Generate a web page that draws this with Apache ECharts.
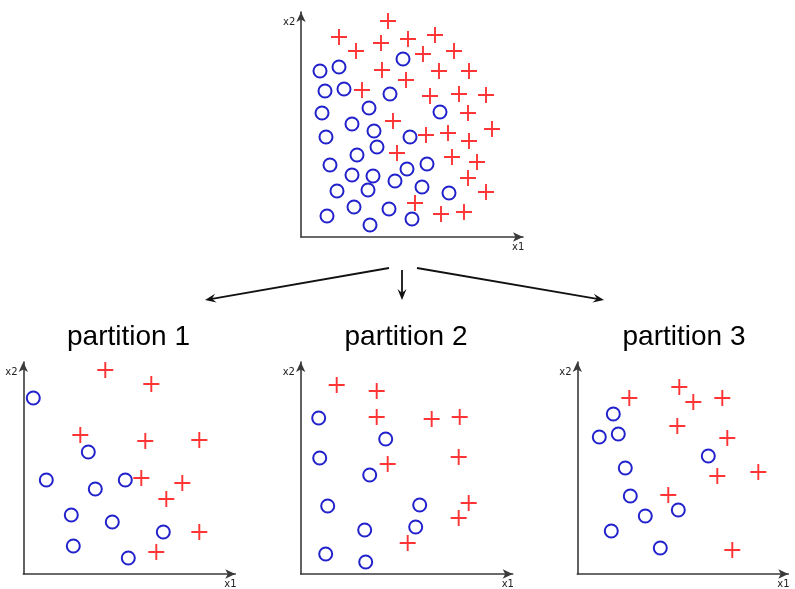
<!DOCTYPE html>
<html>
<head>
<meta charset="utf-8">
<script src="https://cdn.jsdelivr.net/npm/echarts@6/dist/echarts.min.js"></script>
<style>
html,body{margin:0;padding:0;background:#fff;}
#chart{width:795px;height:589px;}
</style>
</head>
<body>
<div id="chart"></div>
<script>
// Data: point positions (x1, x2), in each panel's own units
const topCircles = [[19,166],[38,170],[102,178],[24,146],[43,148],[89,143],[21,124],[68,129],[139,125],[51,113],[73,106],[25,100],[109,100],[76,90],[56,82],[29,72],[51,62],[72,61],[106,68],[126,73],[94,56],[36,46],[67,47],[121,50],[148,44],[53,30],[88,28],[26,21],[111,18],[69,12]];
const topCrosses = [[87,216],[38,200],[107,198],[134,202],[80,194],[55,186],[122,183],[153,186],[81,167],[138,166],[168,166],[105,157],[61,147],[129,141],[158,143],[185,142],[167,124],[92,116],[191,108],[125,102],[147,104],[168,96],[96,84],[151,80],[176,75],[167,59],[185,45],[114,34],[140,23],[163,25]];
const p1Circles = [[10,176],[65,122],[23,94],[72,85],[102,94],[48,59],[89,52],[140,42],[50,28],[105,16]];
const p1Crosses = [[82,204],[128,190],[57,139],[122,133],[176,134],[118,96],[159,91],[143,75],[176,42],[133,22]];
const p2Circles = [[18,156],[85,135],[19,116],[69,99],[27,68],[119,69],[64,44],[115,47],[25,20],[65,12]];
const p2Crosses = [[36,189],[76,183],[76,157],[131,155],[159,157],[158,117],[87,110],[168,71],[158,56],[107,31]];
const p3Circles = [[36,160],[22,137],[41,140],[48,106],[131,118],[53,78],[68,58],[101,64],[34,43],[83,26]];
const p3Crosses = [[52,176],[102,187],[116,172],[145,176],[100,148],[150,136],[140,98],[181,102],[91,79],[155,24]];
const titles = ['partition 1','partition 2','partition 3'];
const xName = 'x1', yName = 'x2';

const panels = [
  {left:301, top:12, width:222, height:225, circles:topCircles, crosses:topCrosses},
  {left:23.3, top:362, width:212, height:212, circles:p1Circles, crosses:p1Crosses},
  {left:300.7, top:362, width:212, height:212, circles:p2Circles, crosses:p2Crosses},
  {left:577.3, top:362, width:211, height:212, circles:p3Circles, crosses:p3Crosses}
];

const plusPath = 'path://M-0.12,-1L0.12,-1L0.12,-0.12L1,-0.12L1,0.12L0.12,0.12L0.12,1L-0.12,1L-0.12,0.12L-1,0.12L-1,-0.12L-0.12,-0.12Z';
const axisLine = {show:true, lineStyle:{color:'#3a3a3a', width:1.6}, symbol:['none','arrow'], symbolSize:[7,10]};

const grid = [], xAxis = [], yAxis = [], series = [], graphic = [];
panels.forEach((p,i)=>{
  grid.push({left:p.left, top:p.top, width:p.width, height:p.height});
  xAxis.push({type:'value', gridIndex:i, min:0, max:p.width, axisLine:axisLine, axisTick:{show:false}, axisLabel:{show:false}, splitLine:{show:false}});
  yAxis.push({type:'value', gridIndex:i, min:0, max:p.height, axisLine:axisLine, axisTick:{show:false}, axisLabel:{show:false}, splitLine:{show:false}});
  series.push({type:'scatter', xAxisIndex:i, yAxisIndex:i, data:p.circles, symbol:'emptyCircle', symbolSize:13,
    itemStyle:{color:'#2222cc', borderWidth:1.5, opacity:1}, silent:true});
  series.push({type:'scatter', xAxisIndex:i, yAxisIndex:i, data:p.crosses, symbol:plusPath, symbolSize:16,
    itemStyle:{color:'#ff2a2a', opacity:0.95}, silent:true});
  // axis names
  const ox = p.left, oy = p.top + p.height;
  graphic.push({type:'text', left:ox-18, top:p.top+5, style:{text:yName, font:'10px "DejaVu Sans"', fill:'#222'}});
  graphic.push({type:'text', left:ox+p.width-11, top:oy+5, style:{text:xName, font:'10px "DejaVu Sans"', fill:'#222'}});
});

// titles
[[128.5,titles[0]],[406,titles[1]],[684,titles[2]]].forEach(t=>{
  graphic.push({type:'text', x:t[0], y:337, style:{text:t[1], font:'28px "Liberation Sans"', fill:'#000', align:'center', verticalAlign:'middle'}});
});

// connecting arrows
function arrow(x1,y1,x2,y2){
  const dx=x2-x1, dy=y2-y1, L=Math.hypot(dx,dy), ux=dx/L, uy=dy/L, nx=-uy, ny=ux;
  const len=11, hw=4.5, notch=7;
  const bx=x2-ux*len, by=y2-uy*len, mx=x2-ux*notch, my=y2-uy*notch;
  graphic.push({type:'line', shape:{x1:x1,y1:y1,x2:mx,y2:my}, style:{stroke:'#111', lineWidth:1.8}});
  graphic.push({type:'polygon', shape:{points:[[x2,y2],[bx+nx*hw,by+ny*hw],[mx,my],[bx-nx*hw,by-ny*hw]]}, style:{fill:'#111'}});
}
arrow(389,268,205,300);
arrow(402,270,402,300);
arrow(417,268,604,300);

const chart = echarts.init(document.getElementById('chart'), null, {renderer:'canvas'});
chart.setOption({animation:false, backgroundColor:'#fff', grid, xAxis, yAxis, series, graphic});
</script>
</body>
</html>
